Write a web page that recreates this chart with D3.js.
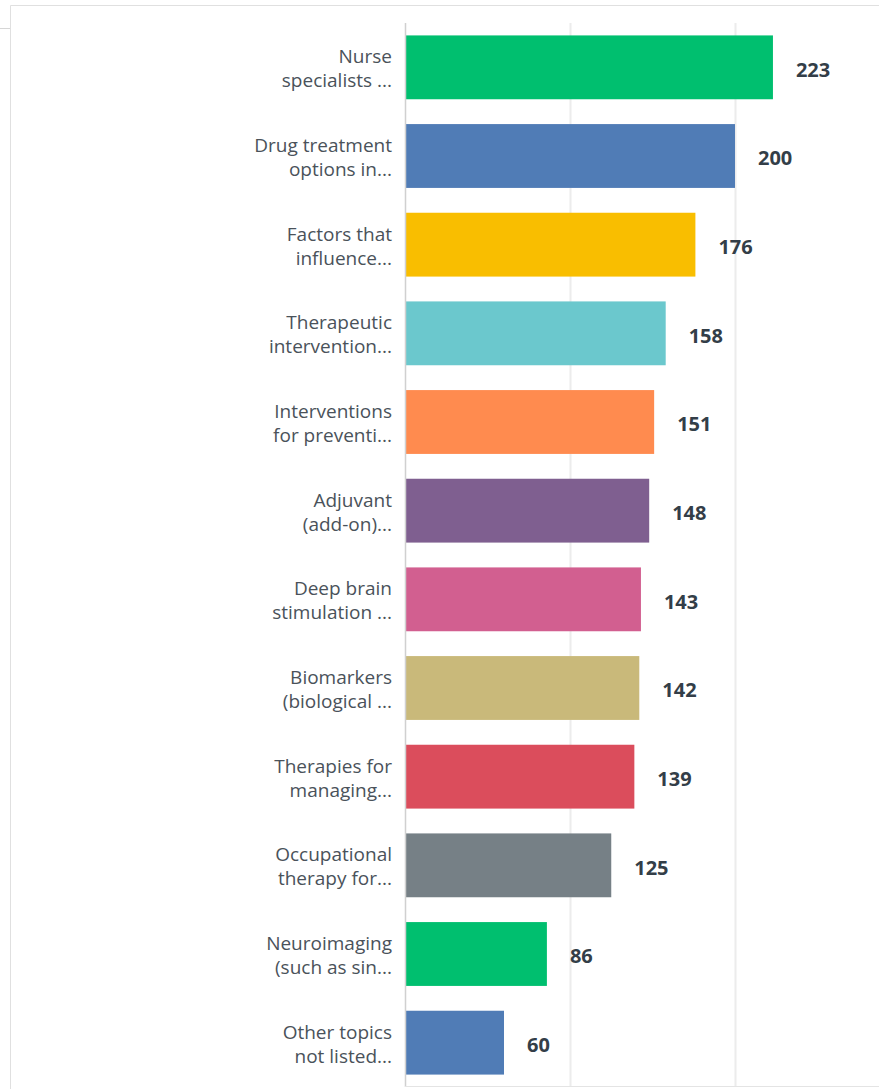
<!DOCTYPE html>
<html>
<head>
<meta charset="utf-8">
<script src="https://cdn.jsdelivr.net/npm/d3@7"></script>
<style>
  body { margin: 0; background: #fff; }
  text { font-family: "Open Sans", sans-serif; }
</style>
</head>
<body>
<div id="container"></div>
<script>
const labels = [
  ["Nurse", "specialists ..."],
  ["Drug treatment", "options in..."],
  ["Factors that", "influence..."],
  ["Therapeutic", "intervention..."],
  ["Interventions", "for preventi..."],
  ["Adjuvant", "(add-on)..."],
  ["Deep brain", "stimulation ..."],
  ["Biomarkers", "(biological ..."],
  ["Therapies for", "managing..."],
  ["Occupational", "therapy for..."],
  ["Neuroimaging", "(such as sin..."],
  ["Other topics", "not listed..."]
];
const values = [223, 200, 176, 158, 151, 148, 143, 142, 139, 125, 86, 60];
const colors = ["#00bf6f", "#507cb6", "#f9be00", "#6bc8cd", "#ff8b4f", "#7f5f90",
                "#d25f90", "#c9b97a", "#db4d5c", "#768086", "#00bf6f", "#507cb6"];
const gridTicks = [0, 100, 200];

const width = 879;
const height = 1089;
const marginTop = 23;
const marginBottom = 2;
const marginLeft = 405;

const idx = d3.range(values.length);
const x = d3.scaleLinear([0, 200], [marginLeft, 735]);
const y = d3.scaleBand(idx, [marginTop, height - marginBottom])
  .paddingInner(0.28)
  .paddingOuter(0.14);

const svg = d3.create("svg")
  .attr("width", width)
  .attr("height", height);

// panel frame
svg.append("path")
  .attr("fill", "none")
  .attr("stroke", "#e0e0e0")
  .attr("d", `M10.5,${height}V5.5H${width}`);
svg.append("line")
  .attr("x1", 0).attr("x2", 10)
  .attr("y1", 28.5).attr("y2", 28.5)
  .attr("stroke", "#d6d6d6");

// gridlines
svg.append("g")
  .selectAll("line")
  .data(gridTicks.slice(1))
  .join("line")
    .attr("x1", (d) => x(d) + 0.5)
    .attr("x2", (d) => x(d) + 0.5)
    .attr("y1", marginTop)
    .attr("y2", height - 2)
    .attr("stroke", "#ececec")
    .attr("stroke-width", 2);

svg.append("g")
  .selectAll("rect")
  .data(idx)
  .join("rect")
    .attr("x", x(0) + 1)
    .attr("y", (i) => y(i))
    .attr("width", (i) => x(values[i]) - x(0) - 1)
    .attr("height", y.bandwidth())
    .attr("fill", (i) => colors[i]);

// axis lines
svg.append("line")
  .attr("x1", x(0) + 0.5).attr("x2", x(0) + 0.5)
  .attr("y1", marginTop).attr("y2", height - 2)
  .attr("stroke", "#d0d0d0")
  .attr("stroke-width", 1.5);
svg.append("line")
  .attr("x1", x(0)).attr("x2", width)
  .attr("y1", height - 2.5).attr("y2", height - 2.5)
  .attr("stroke", "#e4e4e4");

// category labels
const lab = svg.append("g")
  .selectAll("text")
  .data(idx)
  .join("text")
    .attr("text-anchor", "end")
    .attr("fill", "#4a525a")
    .attr("font-size", 19)
    .attr("x", x(0) - 13)
    .attr("y", (i) => y(i) + y.bandwidth() / 2);
lab.selectAll("tspan")
  .data((i) => labels[i].map((t, k) => ({t, k})))
  .join("tspan")
    .attr("x", x(0) - 13)
    .attr("dy", (d) => d.k === 0 ? -4 : 24)
    .text((d) => d.t);

// value labels
svg.append("g")
  .selectAll("text")
  .data(idx)
  .join("text")
    .attr("x", (i) => x(values[i]) + 23)
    .attr("y", (i) => y(i) + y.bandwidth() / 2 + 2)
    .attr("dy", "0.36em")
    .attr("fill", "#333e48")
    .attr("font-size", 20)
    .attr("font-weight", "bold")
    .text((i) => values[i]);

document.getElementById("container").append(svg.node());
</script>
</body>
</html>
